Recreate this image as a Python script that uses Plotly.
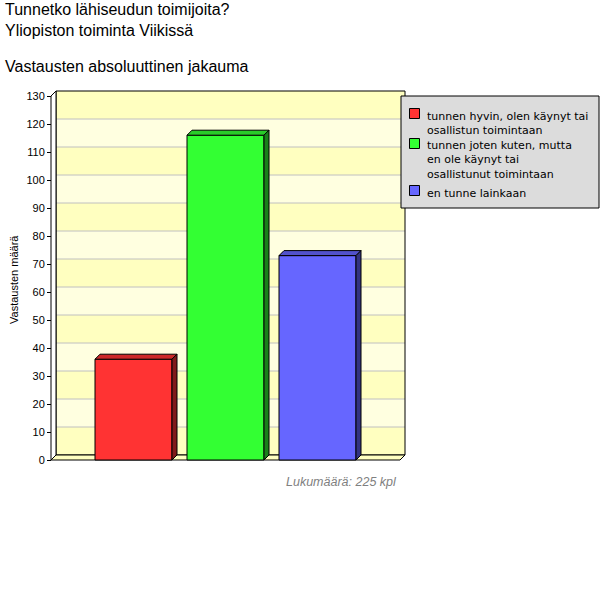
import plotly.graph_objects as go

# ---------------- data ----------------
title_lines = ["Tunnetko lähiseudun toimijoita?", "Yliopiston toiminta Viikissä"]
subtitle = "Vastausten absoluuttinen jakauma"
y_title = "Vastausten määrä"
series_names = [
    "tunnen hyvin, olen käynyt tai<br>osallistun toimintaan",
    "tunnen joten kuten, mutta<br>en ole käynyt tai<br>osallistunut toimintaan",
    "en tunne lainkaan",
]
values = [36, 116, 73]
y_ticks = list(range(0, 131, 10))
count_label = "Lukumäärä: {} kpl"

# ---------------- styles ----------------
front_colors = ["#FF3333", "#33FF33", "#6666FF"]
top_colors = ["#CC2929", "#29CC29", "#5252CC"]
side_colors = ["#801A1A", "#1A801A", "#333380"]
stripe_dark, stripe_light = "#FFFFC0", "#FFFFE0"
grid_color = "#C0C0C0"

W, H = 600, 596
AX_X = 51          # pixel of front y axis
AX_Y0 = 460        # pixel of y = 0 (front)
PX_X = 349.0       # pixels per x unit (front face width of the box)
PX_Y = 364.0 / 130  # pixels per y unit
PA_L, PA_R, PA_T, PA_B = 49, 407, 89, 462
DEPTH = 5
DX = DEPTH / PX_X
DY = DEPTH / PX_Y
PITCH = 92 / PX_X
BW = 77 / PX_X
YMAX = y_ticks[-1]

x_range = [-0.5 - (AX_X - PA_L) / PX_X, -0.5 + (PA_R - AX_X) / PX_X]
y_range = [-(PA_B - AX_Y0) / PX_Y, (AX_Y0 - PA_T) / PX_Y]


def pxx(xp):
    return (xp - PA_L) / (PA_R - PA_L)


def pxy(yp):
    return (PA_B - yp) / (PA_B - PA_T)


def path(pts):
    return "M " + " L ".join(f"{x},{y}" for x, y in pts) + " Z"


fig = go.Figure()
shapes = []

# back wall stripes
for i in range(len(y_ticks) - 1):
    shapes.append(dict(type="rect", xref="x", yref="y", layer="below",
                       x0=-0.5 + DX, x1=0.5 + DX,
                       y0=y_ticks[i] + DY, y1=y_ticks[i + 1] + DY,
                       fillcolor=stripe_dark if i % 2 == 0 else stripe_light,
                       line=dict(width=0)))
# gridlines on back wall
for v in y_ticks[1:-1]:
    shapes.append(dict(type="line", xref="x", yref="y", layer="below",
                       x0=-0.5 + DX, x1=0.5 + DX, y0=v + DY, y1=v + DY,
                       line=dict(color=grid_color, width=1)))
# back wall border
shapes.append(dict(type="rect", xref="x", yref="y", layer="below",
                   x0=-0.5 + DX, x1=0.5 + DX, y0=DY, y1=YMAX + DY,
                   line=dict(color="black", width=1)))
# floor
shapes.append(dict(type="path", xref="x", yref="y", layer="below",
                   path=path([(-0.5, 0), (-0.5 + DX, DY), (0.5 + DX, DY), (0.5, 0)]),
                   fillcolor=stripe_dark, line=dict(color="black", width=1)))
# left wall
shapes.append(dict(type="path", xref="x", yref="y", layer="below",
                   path=path([(-0.5, 0), (-0.5 + DX, DY), (-0.5 + DX, YMAX + DY), (-0.5, YMAX)]),
                   fillcolor="white", line=dict(color="black", width=1)))

# bars
for i, (name, v) in enumerate(zip(series_names, values)):
    c = (i - (len(values) - 1) / 2) * PITCH
    x0, x1 = c - BW / 2, c + BW / 2
    fig.add_trace(go.Bar(x=[0], y=[v], width=[BW], offset=[x0], name=name,
                         marker=dict(color=front_colors[i], line=dict(color="black", width=1)),
                         showlegend=False, hoverinfo="skip"))
    shapes.append(dict(type="path", xref="x", yref="y", layer="above",
                       path=path([(x0, v), (x0 + DX, v + DY), (x1 + DX, v + DY), (x1, v)]),
                       fillcolor=top_colors[i], line=dict(color="black", width=1)))
    shapes.append(dict(type="path", xref="x", yref="y", layer="above",
                       path=path([(x1, 0), (x1, v), (x1 + DX, v + DY), (x1 + DX, DY)]),
                       fillcolor=side_colors[i], line=dict(color="black", width=1)))

# legend box (custom)
shapes.append(dict(type="rect", xref="paper", yref="paper", layer="above",
                   x0=pxx(401), x1=pxx(599), y0=pxy(96), y1=pxy(208),
                   fillcolor="#DCDCDC", line=dict(color="black", width=1)))
legend_first_baseline = [120, 150, 197]
annotations = []
for i, name in enumerate(series_names):
    b = legend_first_baseline[i]
    shapes.append(dict(type="rect", xref="paper", yref="paper", layer="above",
                       x0=pxx(409.5), x1=pxx(419.5), y0=pxy(b - 1.5), y1=pxy(b - 11.5),
                       fillcolor=front_colors[i], line=dict(color="black", width=1)))
    n = name.count("<br>") + 1
    center = b - 4 + (n - 1) * 14.3 / 2
    annotations.append(dict(xref="paper", yref="paper", x=pxx(425), y=pxy(center),
                            xanchor="left", yanchor="middle", align="left", showarrow=False,
                            text=name, font=dict(family="DejaVu Sans", size=11, color="black")))

# titles
annotations.append(dict(xref="paper", yref="paper", x=pxx(3), y=pxy(20),
                        xanchor="left", yanchor="middle", align="left", showarrow=False,
                        text="<br>".join(title_lines),
                        font=dict(family="Liberation Sans", size=16, color="black")))
annotations.append(dict(xref="paper", yref="paper", x=pxx(3), y=pxy(66.5),
                        xanchor="left", yanchor="middle", align="left", showarrow=False,
                        text=subtitle,
                        font=dict(family="Liberation Sans", size=16, color="black")))
annotations.append(dict(xref="paper", yref="paper", x=pxx(14), y=pxy(280),
                        xanchor="center", yanchor="middle", showarrow=False, textangle=-90,
                        text=y_title,
                        font=dict(family="Liberation Sans", size=11, color="black")))
annotations.append(dict(xref="paper", yref="paper", x=pxx(399), y=pxy(482),
                        xanchor="right", yanchor="middle", showarrow=False,
                        text=count_label.format(sum(values)),
                        font=dict(family="Liberation Sans", size=12.5, color="#808080",
                                  style="italic")))

fig.update_layout(
    width=W, height=H,
    margin=dict(l=PA_L, r=W - PA_R, t=PA_T, b=H - PA_B, pad=0),
    paper_bgcolor="white", plot_bgcolor="white",
    barmode="overlay",
    showlegend=False,
    shapes=shapes,
    annotations=annotations,
    xaxis=dict(range=x_range, showgrid=False, zeroline=False, showline=False,
               showticklabels=False, ticks="", fixedrange=True),
    yaxis=dict(range=y_range, showgrid=False, zeroline=False, showline=False,
               anchor="free", position=pxx(AX_X),
               tickmode="array", tickvals=y_ticks, ticktext=[str(t) for t in y_ticks],
               ticks="outside", ticklen=4, tickcolor="black", tickwidth=1,
               tickfont=dict(family="Liberation Sans", size=11, color="black"),
               fixedrange=True),
)

fig.write_html("out.html")
